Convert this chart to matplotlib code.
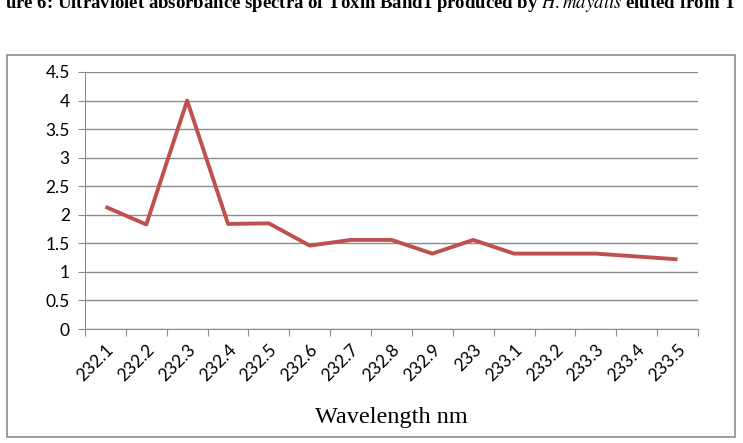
import matplotlib
matplotlib.use("Agg")
from matplotlib import pyplot as plt
from matplotlib.patches import Rectangle

wavelengths = ["232.1", "232.2", "232.3", "232.4", "232.5", "232.6", "232.7", "232.8",
               "232.9", "233", "233.1", "233.2", "233.3", "233.4", "233.5"]
absorbance = [2.14, 1.83, 4.0, 1.84, 1.85, 1.46, 1.56, 1.56, 1.32, 1.56, 1.32, 1.32, 1.32, 1.27, 1.22]
y_ticks = [0, 0.5, 1, 1.5, 2, 2.5, 3, 3.5, 4, 4.5]

plt.rcParams["mathtext.fontset"] = "stix"

fig = plt.figure(figsize=(7.43, 4.43), dpi=100)

# cropped caption from the page
fig.text(0.50, 0.995, "ure 6: Ultraviolet absorbance spectra of Toxin Band1 produced by $\\mathbf{\\it{H. mayalis}}$ eluted from T",
         fontsize=13.5, fontweight="bold", family="Liberation Serif", ha="center", va="center")

# chart border
fig.patches.append(Rectangle((7 / 743, 1 - 437 / 443), 728 / 743, 382 / 443, transform=fig.transFigure,
                             fill=False, edgecolor="#8c8c8c", linewidth=1.2))

ax = fig.add_axes([85 / 743, 1 - 329 / 443, 613 / 743, 257 / 443])
x = list(range(len(wavelengths)))
ax.plot(x, absorbance, color="#C0504D", linewidth=2.8, solid_capstyle="butt", zorder=3)

ax.set_xlim(-0.5, len(wavelengths) - 0.5)
ax.set_ylim(0, 4.5)
ax.set_yticks(y_ticks)
ax.set_yticklabels([f"{v:g}" for v in y_ticks], family="Lato", fontsize=12.5)
ax.yaxis.grid(True, color="#8c8c8c", linewidth=1.0)
ax.set_axisbelow(True)

ax.set_xticks([i - 0.5 for i in range(len(wavelengths) + 1)])
ax.set_xticklabels([])
ax.set_xticks(x, minor=True)
ax.set_xticklabels(wavelengths, minor=True, rotation=45, ha="right", rotation_mode="anchor",
                   family="Lato", fontsize=12.5)
ax.tick_params(axis="x", which="major", length=5, color="#8c8c8c")
ax.tick_params(axis="x", which="minor", length=0, pad=9)
ax.tick_params(axis="y", length=5, color="#8c8c8c", pad=6)

for side in ["top", "right"]:
    ax.spines[side].set_visible(False)
ax.spines["left"].set_color("#8c8c8c")
ax.spines["bottom"].set_color("#8c8c8c")

ax.set_xlabel("Wavelength nm", family="Liberation Serif", fontsize=17.5, labelpad=16)

fig.savefig("out.png", dpi=100)
